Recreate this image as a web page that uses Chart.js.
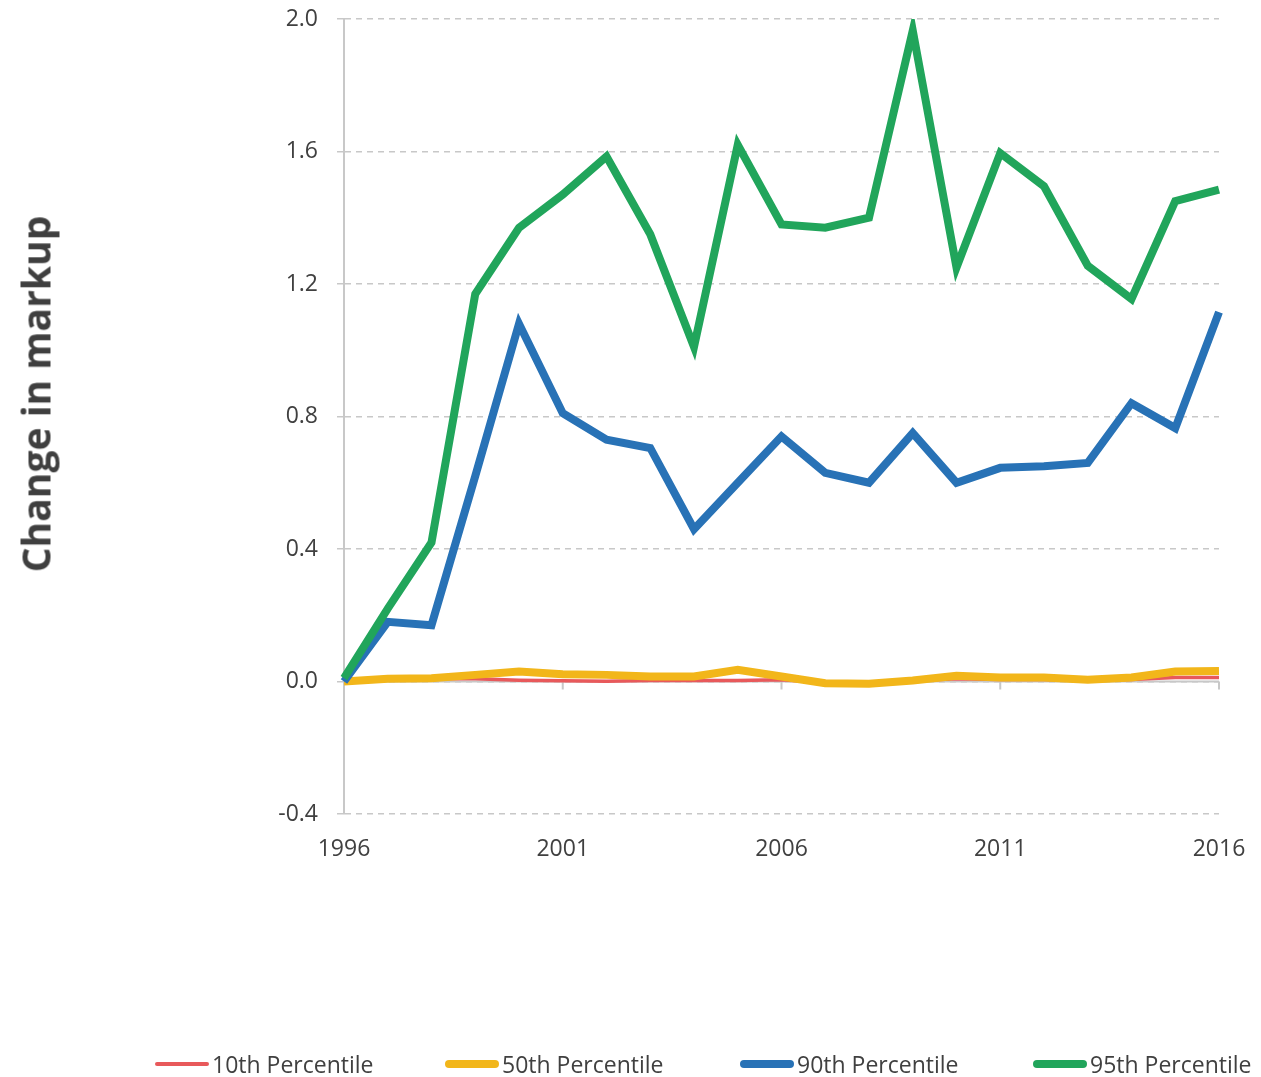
<!DOCTYPE html>
<html>
<head>
<meta charset="utf-8">
<script src="https://cdn.jsdelivr.net/npm/chart.js@4.4.1/dist/chart.umd.min.js"></script>
<style>
  html, body { margin: 0; padding: 0; background: #fff; }
  #wrap { position: relative; width: 1261px; height: 1077px; }
  #yTitle {
    position: absolute; left: 35px; top: 394px;
    transform: translate(-50%, -50%) rotate(-90deg);
    font: bold 39px "Open Sans", sans-serif; color: #3f3f3f; white-space: nowrap;
  }
  #legend { position: absolute; top: 1048px; left: 0; width: 1261px; height: 30px; }
  .item { position: absolute; top: 0; display: flex; align-items: center;
    font: 23px "Open Sans", sans-serif; color: #404040; white-space: nowrap; }
  .swatch { display: inline-block; width: 54px; border-radius: 4px; margin-right: 3px; }
</style>
</head>
<body>
<div id="wrap">
  <canvas id="chart" width="1261" height="1077"></canvas>
  <div id="yTitle">Change in markup</div>
  <div id="legend"></div>
</div>
<script>
// Années et séries (variation du markup par percentile)
const years = [1996, 1997, 1998, 1999, 2000, 2001, 2002, 2003, 2004, 2005, 2006,
  2007, 2008, 2009, 2010, 2011, 2012, 2013, 2014, 2015, 2016];

const p10 = [0, 0.005, 0.008, 0.008, 0.004, 0.002, 0.001, 0.003, 0.003, 0.003, 0.005,
  -0.004, -0.006, 0.002, 0.008, 0.006, 0.006, 0.003, 0.006, 0.012, 0.012];
const p50 = [0, 0.008, 0.01, 0.02, 0.03, 0.022, 0.02, 0.015, 0.015, 0.035, 0.015,
  -0.005, -0.007, 0.003, 0.017, 0.012, 0.012, 0.005, 0.012, 0.03, 0.032];
const p90 = [0, 0.18, 0.17, 0.62, 1.08, 0.81, 0.73, 0.705, 0.46, 0.60, 0.74,
  0.63, 0.60, 0.75, 0.60, 0.645, 0.65, 0.66, 0.84, 0.765, 1.115];
const p95 = [0.01, 0.22, 0.42, 1.17, 1.37, 1.47, 1.585, 1.35, 1.01, 1.62, 1.38,
  1.37, 1.40, 1.965, 1.25, 1.595, 1.495, 1.255, 1.155, 1.45, 1.485];

const yTicks = [-0.4, 0.0, 0.4, 0.8, 1.2, 1.6, 2.0];
const labelYears = [1996, 2001, 2006, 2011, 2016];

const series = [
  { label: '10th Percentile', data: p10, color: '#e8595b', width: 3.5 },
  { label: '50th Percentile', data: p50, color: '#f2b61a', width: 8 },
  { label: '90th Percentile', data: p90, color: '#2872b6', width: 8 },
  { label: '95th Percentile', data: p95, color: '#21a55b', width: 8 }
];

const axisGrey = '#c8c8c8';

// ligne du zéro + petits traits sous les années affichées
const zeroLine = {
  id: 'zeroLine',
  beforeDatasetsDraw(chart) {
    const { ctx, chartArea, scales: { x, y } } = chart;
    const y0 = y.getPixelForValue(0);
    ctx.save();
    ctx.strokeStyle = axisGrey;
    ctx.lineWidth = 2;
    ctx.beginPath();
    ctx.moveTo(chartArea.left, y0);
    ctx.lineTo(chartArea.right, y0);
    years.forEach((yr, i) => {
      if (labelYears.includes(yr) && i > 0) {
        const px = x.getPixelForValue(i);
        ctx.moveTo(px, y0);
        ctx.lineTo(px, y0 + 8);
      }
    });
    ctx.stroke();
    ctx.restore();
  }
};

new Chart(document.getElementById('chart'), {
  type: 'line',
  data: {
    labels: years,
    // le 10e percentile passe sous le 50e, le 95e est au-dessus de tout
    datasets: series.map((s, i) => ({
      label: s.label,
      data: s.data,
      borderColor: s.color,
      backgroundColor: s.color,
      borderWidth: s.width,
      pointRadius: 0,
      tension: 0,
      order: series.length - i
    }))
  },
  options: {
    responsive: false,
    animation: false,
    layout: { padding: { left: 0, right: 42, top: 19, bottom: 0 } },
    plugins: { legend: { display: false }, tooltip: { enabled: false } },
    scales: {
      x: {
        type: 'category',
        afterFit(scale) {
          scale.height = 263;
          scale.paddingLeft = 0;
          scale.paddingRight = 0;
        },
        grid: { display: false, drawTicks: false },
        border: { display: false },
        ticks: {
          autoSkip: false,
          maxRotation: 0,
          padding: 22,
          color: '#404040',
          font: { family: 'Open Sans', size: 23 },
          callback(val, i) { return labelYears.includes(years[i]) ? String(years[i]) : ''; }
        }
      },
      y: {
        min: yTicks[0],
        max: yTicks[yTicks.length - 1],
        afterFit(scale) {
          scale.width = 344;
          scale.paddingTop = 0;
          scale.paddingBottom = 0;
        },
        afterBuildTicks(scale) { scale.ticks = yTicks.map(v => ({ value: v })); },
        grid: { color: axisGrey, lineWidth: 1.5, tickLength: 7, tickColor: axisGrey },
        border: { display: true, color: axisGrey, width: 2, dash: [6, 5] },
        ticks: {
          padding: 19,
          color: '#404040',
          font: { family: 'Open Sans', size: 23 },
          callback(v) { return v.toFixed(1); }
        }
      }
    }
  },
  plugins: [zeroLine]
});

// légende en bas
const legendPos = [155, 445, 740, 1033];
const legend = document.getElementById('legend');
series.forEach((s, i) => {
  const item = document.createElement('div');
  item.className = 'item';
  item.style.left = legendPos[i] + 'px';
  const sw = document.createElement('span');
  sw.className = 'swatch';
  sw.style.background = s.color;
  sw.style.height = (s.width === 8 ? 8 : 4) + 'px';
  item.appendChild(sw);
  item.appendChild(document.createTextNode(s.label));
  legend.appendChild(item);
});
</script>
</body>
</html>
